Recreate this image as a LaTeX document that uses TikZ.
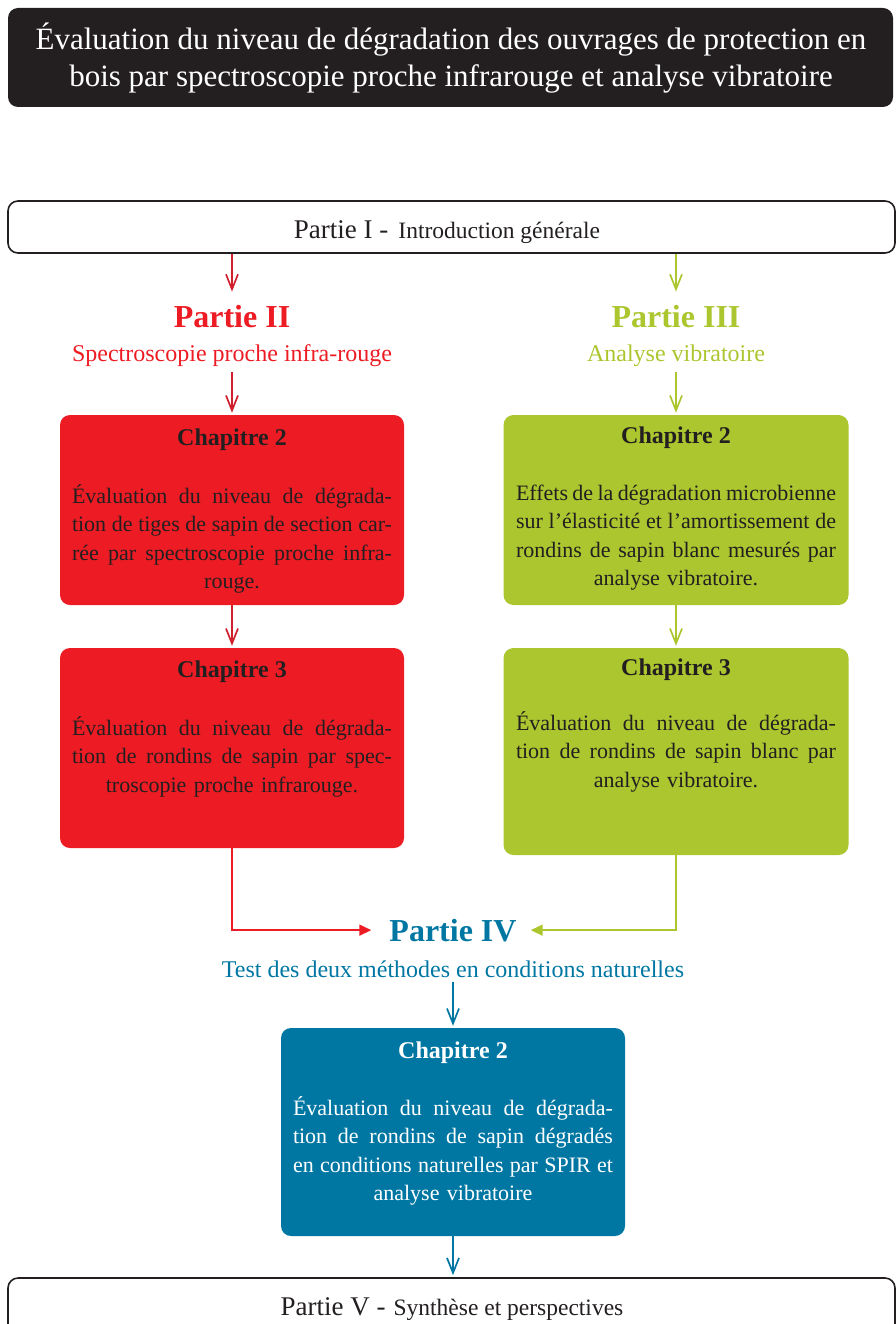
\documentclass[tikz,border=0pt]{standalone}
\usepackage{fontspec}
\setmainfont{Liberation Serif}
\usetikzlibrary{arrows.meta}
\definecolor{cred}{HTML}{ED1C24}
\definecolor{cdred}{HTML}{D0202E}
\definecolor{cgreen}{HTML}{ABC62F}
\definecolor{cblue}{HTML}{0077A3}
\definecolor{cdark}{HTML}{231F20}
\newcommand\jl[1]{{\spaceskip=0pt\xspaceskip=0pt\makebox[\linewidth][s]{#1}}}
\newcommand\tstrut[1]{\rule{0pt}{#1}}
\tikzset{
  box/.style={rounded corners=10pt, inner sep=0pt, minimum width=344pt},
  outbox/.style={rounded corners=10pt, inner sep=0pt, draw=cdark, line width=1.6pt, fill=white, minimum width=887pt},
  hd/.style={font=\bfseries\fontsize{24}{28}\selectfont, text=cdark, anchor=base, inner sep=0pt},
  body/.style={font=\fontsize{22}{28.5}\selectfont, text=cdark, anchor=north, inner sep=0pt, text width=320pt, align=center},
  part/.style={font=\bfseries\fontsize{32}{36}\selectfont, anchor=base, inner sep=0pt},
  sub/.style={font=\fontsize{24}{28}\selectfont, anchor=base, inner sep=0pt},
  vtip/.style={-{Straight Barb[length=15pt,width=12pt]}, line width=1.7pt},
  ftip/.style={-{Triangle[length=12pt,width=11pt]}, line width=1.7pt},
  bigpart/.style={font=\fontsize{27}{30}\selectfont, anchor=base, inner sep=0pt, text=cdark},
}
\begin{document}
\begin{tikzpicture}[x=1pt,y=-1pt]
\useasboundingbox (0,0) rectangle (896,1324);
% title
\node[rounded corners=10pt, fill=cdark, minimum width=885pt, minimum height=99pt, inner sep=0pt] (titlebox) at (450.5,57.5) {};
\node[anchor=north, inner sep=0pt, align=center, text=white, font=\fontsize{31}{37}\selectfont] (title) at (451,19)
  {\tstrut{30pt}Évaluation du niveau de dégradation des ouvrages de protection en\\ bois par spectroscopie proche infrarouge et analyse vibratoire};
% partie I
\node[outbox, minimum height=52pt] (p1) at (451.5,227) {};
\node[bigpart] (p1t) at (447,239) {Partie I -\hspace{10pt}{\fontsize{23.5}{26}\selectfont Introduction générale}};
% partie II / III
\node[part, text=cred] (p2) at (232,327) {Partie II};
\node[sub, text=cred] (p2s) at (232,361) {Spectroscopie proche infra-rouge};
\node[part, text=cgreen] (p3) at (676,327) {Partie III};
\node[sub, text=cgreen] (p3s) at (676,361) {Analyse vibratoire};
% red boxes
\node[box, fill=cred, minimum height=190pt] (r2) at (232,510) {};
\node[hd] (r2h) at (232,445) {Chapitre 2};
\node[body] (r2t) at (232,481) {\jl{\tstrut{22pt}Évaluation du niveau de dégrada-}\\ \jl{tion de tiges de sapin de section car-}\\ \jl{rée par spectroscopie proche infra-}\\ rouge.};
\node[box, fill=cred, minimum height=200pt] (r3) at (232,748) {};
\node[hd] (r3h) at (232,677) {Chapitre 3};
\node[body] (r3t) at (232,713) {\jl{\tstrut{22pt}Évaluation du niveau de dégrada-}\\ \jl{tion de rondins de sapin par spec-}\\ troscopie proche infrarouge.};
% green boxes
\node[box, fill=cgreen, minimum width=345pt, minimum height=190pt] (g2) at (676,510) {};
\node[hd] (g2h) at (676,443) {Chapitre 2};
\node[body] (g2t) at (676,478) {\jl{\tstrut{22pt}Effets de la dégradation microbienne}\\ \jl{sur l’élasticité et l’amortissement de}\\ \jl{rondins de sapin blanc mesurés par}\\ analyse vibratoire.};
\node[box, fill=cgreen, minimum width=345pt, minimum height=207pt] (g3) at (676,751.5) {};
\node[hd] (g3h) at (676,675) {Chapitre 3};
\node[body] (g3t) at (676,708) {\jl{\tstrut{22pt}Évaluation du niveau de dégrada-}\\ \jl{tion de rondins de sapin blanc par}\\ analyse vibratoire.};
% partie IV
\node[part, text=cblue] (p4) at (453,941) {Partie IV};
\node[sub, text=cblue] (p4s) at (453,977) {Test des deux méthodes en conditions naturelles};
\node[box, fill=cblue, minimum height=208pt] (b2) at (453,1132) {};
\node[hd, text=white] (b2h) at (453,1058) {Chapitre 2};
\node[body, text=white] (b2t) at (453,1093) {\jl{\tstrut{22pt}Évaluation du niveau de dégrada-}\\ \jl{tion de rondins de sapin dégradés}\\ \jl{en conditions naturelles par SPIR et}\\ analyse vibratoire};
% partie V
\node[outbox, minimum height=72pt] (p5) at (451.5,1314) {};
\node[bigpart] (p5t) at (452,1315) {Partie V -\hspace{8pt}{\fontsize{23.5}{26}\selectfont Synthèse et perspectives}};
% connectors
\draw[vtip, cdred, shorten >=13pt] (p1.south -| p2.north) -- (p2.north);
\draw[vtip, cgreen, shorten >=13pt] (p1.south -| p3.north) -- (p3.north);
\draw[vtip, cdred, shorten <=6pt, shorten >=2pt] (p2s.south) -- (r2.north);
\draw[vtip, cgreen, shorten <=6pt, shorten >=2pt] (p3s.south) -- (g2.north);
\draw[vtip, cdred, shorten >=2pt] (r2.south) -- (r3.north);
\draw[vtip, cgreen, shorten >=2pt] (g2.south) -- (g3.north);
\draw[ftip, cred, shorten >=18pt] (r3.south) |- (p4.west);
\draw[ftip, cgreen, shorten >=14pt] (g3.south) |- (p4.east);
\draw[vtip, cblue, shorten <=5pt, shorten >=2pt] (p4s.south) -- (b2.north);
\draw[vtip, cblue, shorten >=2pt] (b2.south) -- (b2.south |- p5.north);
\end{tikzpicture}
\end{document}
